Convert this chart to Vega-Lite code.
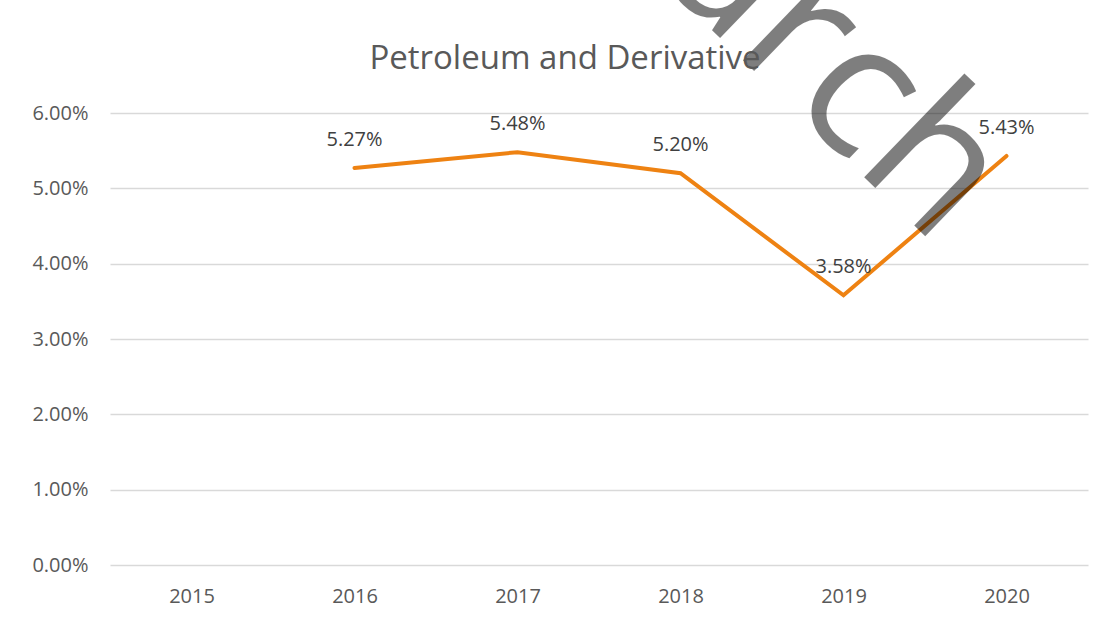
{
  "$schema": "https://vega.github.io/schema/vega-lite/v6.json",
  "autosize": {"type": "none"},
  "width": 978,
  "height": 452,
  "padding": {"left": 110, "top": 113, "right": 17, "bottom": 52},
  "background": "white",
  "config": {
    "view": {"stroke": null},
    "font": "Open Sans"
  },
  "title": {
    "text": "Petroleum and Derivative",
    "fontSize": 33,
    "fontWeight": "normal",
    "color": "#595959",
    "font": "Open Sans",
    "anchor": "middle",
    "frame": "group",
    "offset": 34,
    "dy": 536,
    "dx": -34
  },
  "data": {
    "values": [
      {"year": "2016", "value": 0.0527},
      {"year": "2017", "value": 0.0548},
      {"year": "2018", "value": 0.0520},
      {"year": "2019", "value": 0.0358},
      {"year": "2020", "value": 0.0543}
    ]
  },
  "encoding": {
    "x": {
      "field": "year",
      "type": "ordinal",
      "scale": {"domain": ["2015", "2016", "2017", "2018", "2019", "2020"], "paddingInner": 0, "paddingOuter": 0},
      "axis": {
        "title": null,
        "labelAngle": 0,
        "labelFontSize": 20,
        "labelColor": "#595959",
        "labelFont": "Open Sans",
        "ticks": false,
        "domain": false,
        "labelPadding": 21,
        "grid": false
      }
    },
    "y": {
      "field": "value",
      "type": "quantitative",
      "scale": {"domain": [0, 0.06], "nice": false},
      "axis": {
        "title": null,
        "format": ".2%",
        "values": [0, 0.01, 0.02, 0.03, 0.04, 0.05, 0.06],
        "labelFontSize": 20,
        "labelColor": "#595959",
        "labelFont": "Open Sans",
        "ticks": false,
        "domain": false,
        "labelPadding": 22,
        "gridColor": "#d9d9d9",
        "gridWidth": 1.5
      }
    }
  },
  "layer": [
    {
      "mark": {"type": "line", "color": "#EE8212", "strokeWidth": 4, "strokeCap": "round", "strokeJoin": "miter"}
    },
    {
      "mark": {"type": "text", "fontSize": 20, "color": "#404040", "font": "Open Sans", "dy": -28, "baseline": "middle"},
      "encoding": {
        "text": {"field": "value", "type": "quantitative", "format": ".2%"}
      }
    },
    {
      "transform": [{"filter": "datum.year == '2019'"}],
      "mark": {"type": "text", "text": "Research", "fontSize": 190, "font": "Open Sans", "color": "#000000", "opacity": 0.5, "angle": 44, "align": "right", "baseline": "alphabetic", "dx": 129},
      "encoding": {
        "x": {"datum": "2019"},
        "y": {"datum": 0.0541}
      }
    }
  ]
}
